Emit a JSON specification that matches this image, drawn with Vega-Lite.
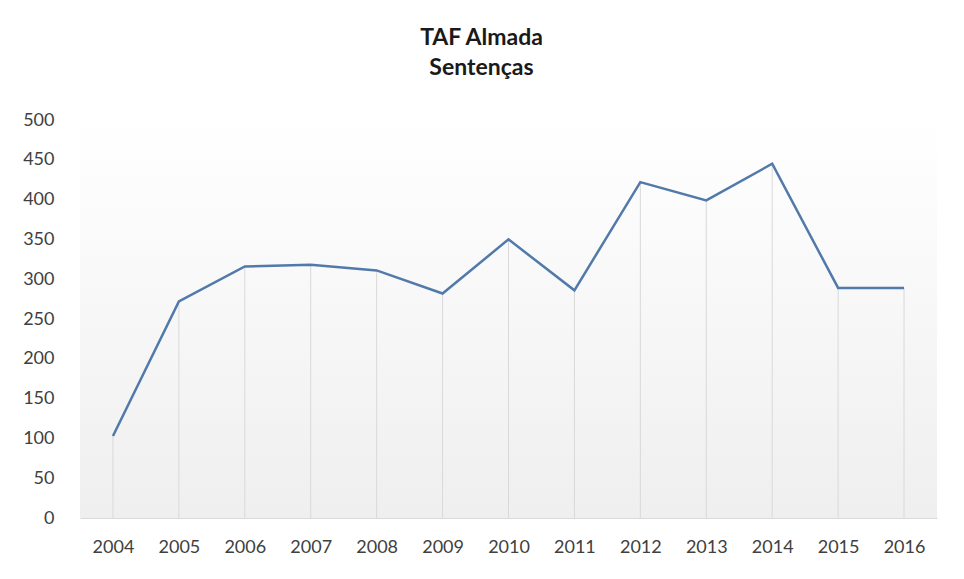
{
  "$schema": "https://vega.github.io/schema/vega-lite/v6.json",
  "autosize": {"type": "none"},
  "width": 857,
  "height": 398,
  "padding": {"left": 80, "top": 120, "right": 27, "bottom": 61},
  "background": "white",
  "config": {
    "font": "Lato",
    "view": {
      "stroke": null,
      "fill": {"gradient": "linear", "x1": 0, "y1": 0, "x2": 0, "y2": 1, "stops": [{"offset": 0, "color": "#ffffff"}, {"offset": 0.12, "color": "#fdfdfd"}, {"offset": 1, "color": "#efefef"}]}
    }
  },
  "title": {
    "text": ["TAF Almada", "Sentenças"],
    "font": "Lato",
    "fontSize": 23,
    "fontWeight": "bold",
    "color": "#1a1a1a",
    "anchor": "middle",
    "dx": -27,
    "offset": 31,
    "lineHeight": 30
  },
  "data": {
    "values": [
      {"year": "2004", "value": 103},
      {"year": "2005", "value": 272},
      {"year": "2006", "value": 316},
      {"year": "2007", "value": 318},
      {"year": "2008", "value": 311},
      {"year": "2009", "value": 282},
      {"year": "2010", "value": 350},
      {"year": "2011", "value": 286},
      {"year": "2012", "value": 422},
      {"year": "2013", "value": 399},
      {"year": "2014", "value": 445},
      {"year": "2015", "value": 289},
      {"year": "2016", "value": 289}
    ]
  },
  "encoding": {
    "x": {
      "field": "year",
      "type": "ordinal",
      "scale": {"type": "point", "padding": 0.5},
      "axis": {
        "title": null,
        "labelAngle": 0,
        "labelFontSize": 18,
        "labelColor": "#404040",
        "labelPadding": 20,
        "labelOverlap": false,
        "ticks": false,
        "domainColor": "#d9d9d9",
        "domainWidth": 1,
        "grid": false
      }
    },
    "y": {
      "field": "value",
      "type": "quantitative",
      "scale": {"domain": [0, 500], "nice": false},
      "axis": {
        "title": null,
        "values": [0, 50, 100, 150, 200, 250, 300, 350, 400, 450, 500],
        "labelFontSize": 18,
        "labelColor": "#404040",
        "labelPadding": 26,
        "labelOverlap": false,
        "ticks": false,
        "domain": false,
        "grid": false
      }
    }
  },
  "layer": [
    {
      "mark": {"type": "rule", "color": "#d9d9d9", "strokeWidth": 1},
      "encoding": {
        "y2": {"datum": 0}
      }
    },
    {
      "mark": {"type": "line", "color": "#5179aa", "strokeWidth": 2.5},
      "encoding": {}
    }
  ]
}
